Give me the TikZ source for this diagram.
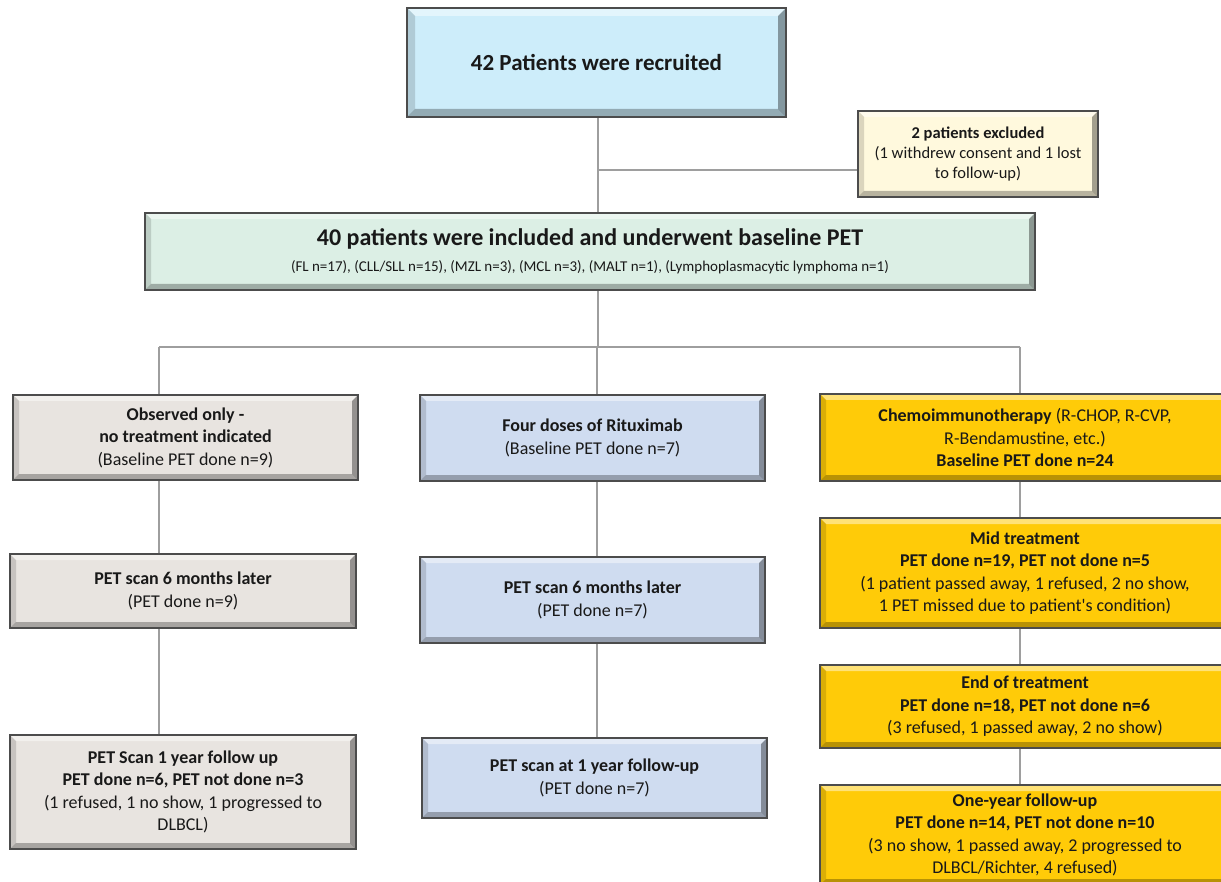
\documentclass[tikz,border=0pt]{standalone}
\usepackage{fontspec}
\setmainfont{Carlito}
\usetikzlibrary{positioning}

\definecolor{recruitblue}{RGB}{205,237,250}
\definecolor{excludecream}{RGB}{255,249,221}
\definecolor{baselinemint}{RGB}{220,239,229}
\definecolor{obsgray}{RGB}{232,228,224}
\definecolor{ritblue}{RGB}{207,220,240}
\definecolor{chemogold}{RGB}{255,203,8}

\tikzset{
  bevel width/.store in=\bevw, bevel width=6pt,
  bevel/.style={path picture={
    \path (path picture bounding box.north west) coordinate (bnw)
          (path picture bounding box.north east) coordinate (bne)
          (path picture bounding box.south west) coordinate (bsw)
          (path picture bounding box.south east) coordinate (bse);
    \fill[white,opacity=.45] (bnw) -- (bne) -- ([xshift=-\bevw,yshift=-\bevw]bne) -- ([xshift=\bevw,yshift=-\bevw]bnw) -- cycle;
    \fill[black,opacity=.28] (bsw) -- (bse) -- ([xshift=-\bevw,yshift=\bevw]bse) -- ([xshift=\bevw,yshift=\bevw]bsw) -- cycle;
    \fill[black,opacity=.14] (bnw) -- ([xshift=\bevw,yshift=-\bevw]bnw) -- ([xshift=\bevw,yshift=\bevw]bsw) -- (bsw) -- cycle;
    \fill[black,opacity=.36] (bne) -- ([xshift=-\bevw,yshift=-\bevw]bne) -- ([xshift=-\bevw,yshift=\bevw]bse) -- (bse) -- cycle;
  }},
  flowbox/.style={draw=black!70, line width=2.6pt, inner sep=0pt, align=center,
    text=black!90, font=\fontsize{18}{22.5}\selectfont, bevel},
  obsbox/.style={flowbox, fill=obsgray, minimum width=346},
  ritbox/.style={flowbox, fill=ritblue, minimum width=345},
  chemobox/.style={flowbox, fill=chemogold, minimum width=410},
  link/.style={draw=black!38, line width=1.8pt},
}

\begin{document}
\begin{tikzpicture}[x=1pt, y=-1pt]
\useasboundingbox (0,0) rectangle (1221,882);

% top of the flow
\node[flowbox, fill=recruitblue, minimum width=379, minimum height=109, bevel width=8pt,
  font=\fontsize{23}{28}\selectfont] (recruit) at (596.5,62.5) {\textbf{42 Patients were recruited}};
\node[flowbox, fill=excludecream, minimum width=240, minimum height=86,
  font=\fontsize{16.5}{20}\selectfont] (excluded) at (978,154)
  {\textbf{2 patients excluded}\\(1 withdrew consent and 1 lost\\to follow-up)};
\node[flowbox, fill=baselinemint, minimum width=890, minimum height=77] (baseline) at (590,251.5)
  {{\fontsize{24}{28}\selectfont\bfseries 40 patients were included and underwent baseline PET}\\[3pt]
   {\fontsize{15}{17}\selectfont (FL n=17), (CLL/SLL n=15), (MZL n=3), (MCL n=3), (MALT n=1), (Lymphoplasmacytic lymphoma n=1)}};

% observed only
\node[obsbox, minimum width=345, minimum height=85] (obs1) at (185.5,437.5)
  {\textbf{Observed only -}\\\textbf{no treatment indicated}\\(Baseline PET done n=9)};
\node[obsbox, minimum height=74] (obs2) at (183,591)
  {\textbf{PET scan 6 months later}\\(PET done n=9)};
\node[obsbox, minimum height=114] (obs3) at (183,792)
  {\textbf{PET Scan 1 year follow up}\\\textbf{PET done n=6, PET not done n=3}\\(1 refused, 1 no show, 1 progressed to\\DLBCL)};

% rituximab
\node[ritbox, minimum height=86] (rit1) at (592.5,438)
  {\textbf{Four doses of Rituximab}\\(Baseline PET done n=7)};
\node[ritbox, minimum height=86] (rit2) at (592.5,600)
  {\textbf{PET scan 6 months later}\\(PET done n=7)};
\node[ritbox, minimum height=80] (rit3) at (594.5,778)
  {\textbf{PET scan at 1 year follow-up}\\(PET done n=7)};

% chemoimmunotherapy
\node[chemobox, minimum height=87] (chemo1) at (1025,437.5)
  {\textbf{Chemoimmunotherapy} (R-CHOP, R-CVP,\\R-Bendamustine, etc.)\\\textbf{Baseline PET done n=24}};
\node[chemobox, minimum height=110] (chemo2) at (1025,573)
  {\textbf{Mid treatment}\\\textbf{PET done n=19, PET not done n=5}\\(1 patient passed away, 1 refused, 2 no show,\\1 PET missed due to patient\textquotesingle s condition)};
\node[chemobox, minimum height=83] (chemo3) at (1025,706.5)
  {\textbf{End of treatment}\\\textbf{PET done n=18, PET not done n=6}\\(3 refused, 1 passed away, 2 no show)};
\node[chemobox, minimum height=100] (chemo4) at (1025,835)
  {\textbf{One-year follow-up}\\\textbf{PET done n=14, PET not done n=10}\\(3 no show, 1 passed away, 2 progressed to\\DLBCL/Richter, 4 refused)};

% connectors
\coordinate (exjoin) at (598,170);
\coordinate (split) at (598,347);
\coordinate (obsx) at (159,347);
\coordinate (ritx) at (597,347);
\coordinate (chemox) at (1020,347);
\draw[link] (recruit.south -| split) -- (baseline.north -| split);
\draw[link] (exjoin) -- (exjoin -| excluded.west);
\draw[link] (baseline.south -| split) -- (split);
\draw[link] (obsx) -- (chemox);
\draw[link] (obsx) -- (obsx |- obs1.north);
\draw[link] (ritx) -- (ritx |- rit1.north);
\draw[link] (chemox) -- (chemox |- chemo1.north);
\foreach \a/\b/\c in {obs1/obs2/obsx, obs2/obs3/obsx, rit1/rit2/ritx, rit2/rit3/ritx,
                      chemo1/chemo2/chemox, chemo2/chemo3/chemox, chemo3/chemo4/chemox}
  \draw[link] (\a.south -| \c) -- (\b.north -| \c);
\end{tikzpicture}
\end{document}
